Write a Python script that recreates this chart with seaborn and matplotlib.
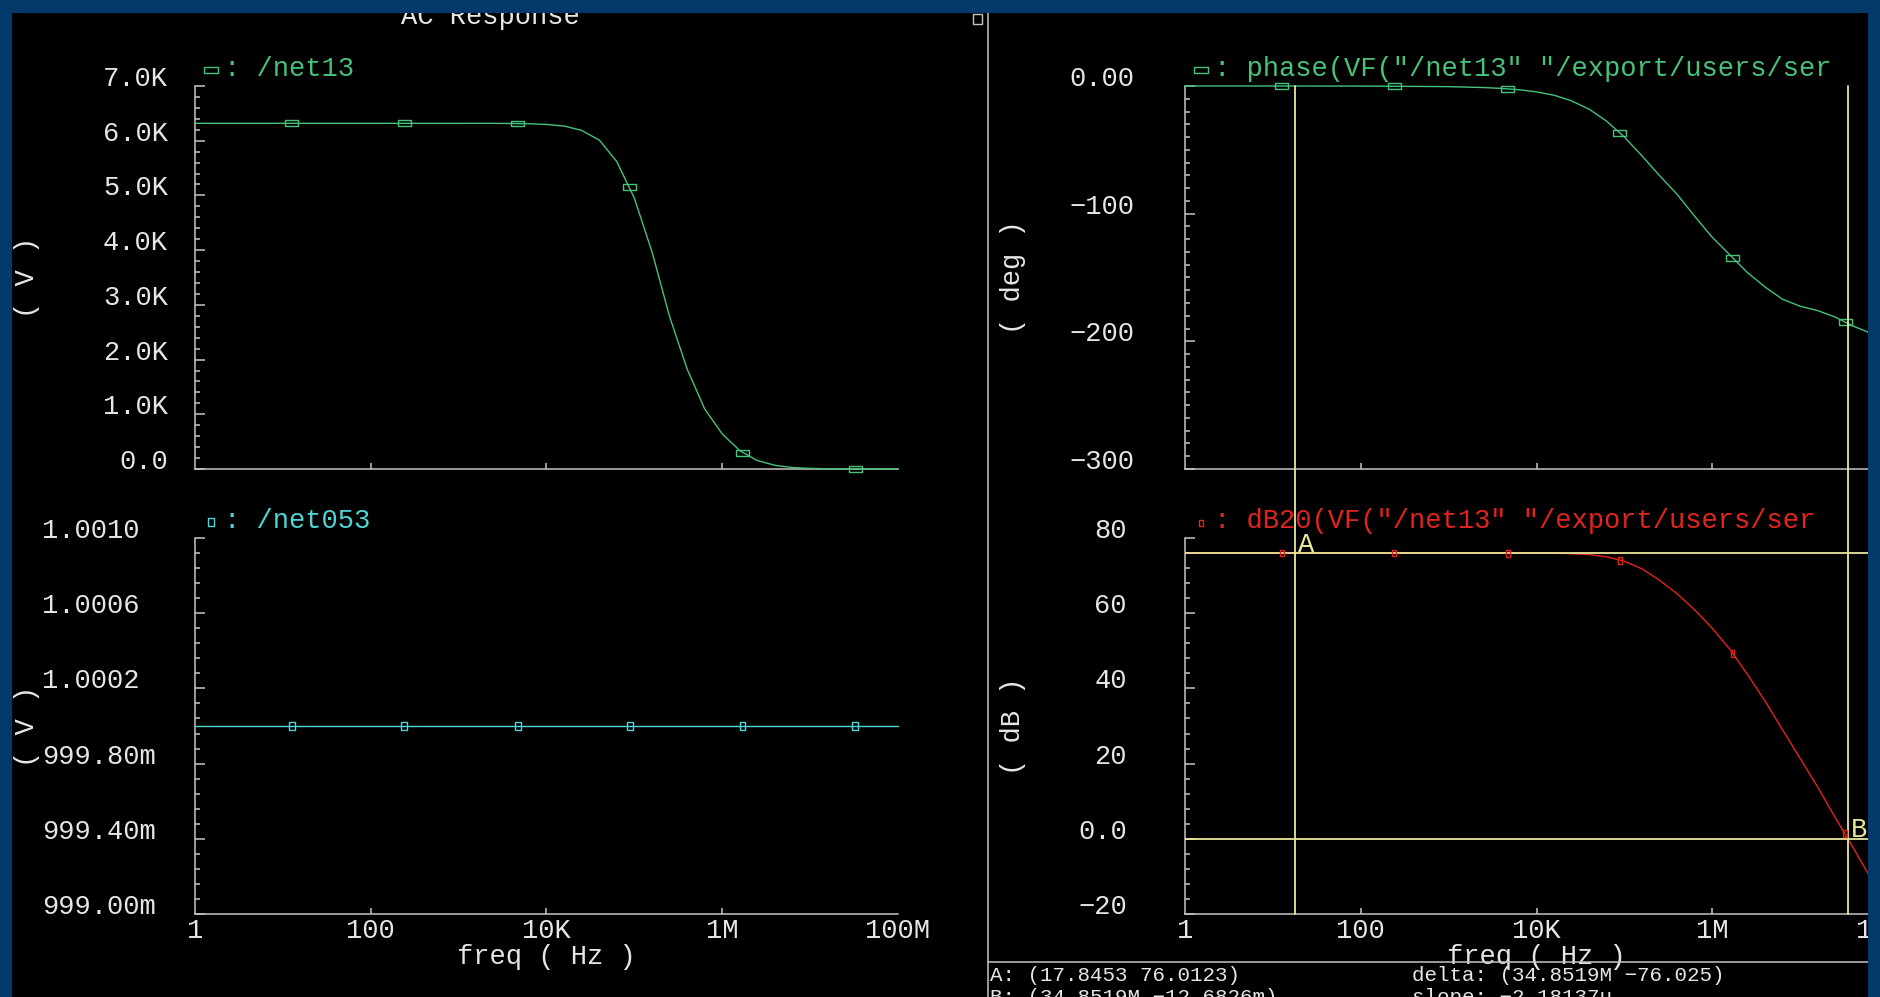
import numpy as np
import matplotlib.pyplot as plt
from matplotlib.patches import Rectangle
from matplotlib.lines import Line2D
from matplotlib.ticker import AutoMinorLocator, NullLocator
import seaborn as sns

# AC sweep points (Hz)
freq = [1, 10, 100, 1e3, 2.5e3, 4e3, 6.3e3, 1e4, 1.6e4, 2.5e4, 4e4, 6.3e4,
        1e5, 1.6e5, 2.5e5, 4e5, 6.3e5, 1e6, 1.6e6, 2.5e6, 4e6, 6.3e6,
        1e7, 1.6e7, 2.5e7, 4e7, 6.3e7, 1e8]
# /net13 magnitude (V)
net13 = [6318, 6318, 6318, 6317, 6317, 6315, 6310, 6297, 6267, 6190, 6010, 5620,
         4950, 3950, 2800, 1820, 1100, 640, 330, 155, 66, 27,
         11, 4, 1.7, 0.7, 0.3, 0.1]
# phase(VF("/net13")) in deg
phase = [0.0, -0.005, -0.05, -0.5, -1.2, -1.9, -2.9, -4.6, -7.3, -11.6, -18.3, -27.6,
         -40.0, -55.0, -70.0, -85.0, -102.0, -118.5, -132.5, -146.0, -157.5, -167.0,
         -172.5, -176.0, -181.0, -188.0, -193.5, -199.0]
# dB20(VF("/net13"))
gain_db = [76.01, 76.01, 76.01, 76.01, 76.01, 76.0, 76.0, 75.98, 75.94, 75.84, 75.58, 75.0,
           73.81, 71.75, 68.8, 65.13, 60.9, 56.0, 50.3, 43.8, 36.6, 29.0,
           21.4, 13.6, 5.7, -2.3, -10.3, -18.3]
# /net053 sits flat at 1 V
net053_freq = [1, 1e8]
net053 = [1.0, 1.0]

# trace markers (one every ~1.3 decades)
mark_freq = [12.6, 240, 4.7e3, 8.9e4, 1.7e6, 3.25e7]
mark_net13 = [6318, 6318, 6314, 5150, 300, 1]
mark_net053 = [1.0, 1.0, 1.0, 1.0, 1.0, 1.0]
mark_phase = [-0.01, -0.1, -2.2, -37.0, -134.5, -185.0]
mark_db = [76.01, 76.01, 76.0, 74.1, 49.3, 1.3]

# cursors A and B on the dB trace
cursor_a = (17.8453, 76.0123)
cursor_b = (34.8519e6, -12.6826e-3)

freq_ticks = [1, 1e2, 1e4, 1e6, 1e8]
freq_labels = ['1', '100', '10K', '1M', '100M']
v_ticks = [0, 1000, 2000, 3000, 4000, 5000, 6000, 7000]
v_labels = ['0.0', '1.0K', '2.0K', '3.0K', '4.0K', '5.0K', '6.0K', '7.0K']
v2_ticks = [0.999, 0.9994, 0.9998, 1.0002, 1.0006, 1.0010]
v2_labels = ['999.00m', '999.40m', '999.80m', '1.0002', '1.0006', '1.0010']
ph_ticks = [-300, -200, -100, 0]
ph_labels = ['−300', '−200', '−100', '0.00']
db_ticks = [-20, 0, 20, 40, 60, 80]
db_labels = ['−20', '0.0', '20', '40', '60', '80']

BLUE = '#033a6b'
BG = 'black'
AXC = '#c4c4c4'
TXT = '#e6e6e6'
GREEN = '#46c27a'
CYAN = '#4fd6d6'
RED = '#e3241e'
YEL = '#e8e89c'
LBL = 19.5
SML = 15

sns.set_style('dark', {'axes.facecolor': 'none', 'figure.facecolor': BG, 'axes.grid': False})
plt.rcParams['font.family'] = ['Liberation Mono', 'DejaVu Sans Mono']

W, H = 1881, 997
fig = plt.figure(figsize=(W / 100, H / 100), dpi=100)
fig.patch.set_facecolor(BG)


def fx(x):
    return x / W


def fy(y):
    return 1 - y / H


def add_ax(x0, y0, x1, y1):
    return fig.add_axes([fx(x0), fy(y1), (x1 - x0) / W, (y1 - y0) / H])


def setup(ax, ylim, ticks, labels, show_x, pad, ha='right', minor=5):
    ax.set_xscale('log')
    ax.set_xlim(1, 1e8)
    ax.set_ylim(*ylim)
    ax.set_facecolor('none')
    ax.grid(False)
    for side in ('top', 'right'):
        ax.spines[side].set_visible(False)
    for side in ('left', 'bottom'):
        ax.spines[side].set_color(AXC)
        ax.spines[side].set_linewidth(1.1)
    ax.set_xticks(freq_ticks, labels=freq_labels)
    ax.xaxis.set_minor_locator(NullLocator())
    ax.set_yticks(ticks, labels=labels)
    ax.yaxis.set_minor_locator(AutoMinorLocator(minor))
    ax.tick_params(axis='both', which='both', direction='in', color=AXC, width=1.1,
                   labelcolor=TXT, labelsize=LBL, left=True, bottom=True)
    ax.tick_params(axis='x', which='major', length=4.3, pad=3.0, labelbottom=show_x)
    ax.tick_params(axis='y', which='major', length=7.2, pad=pad)
    ax.tick_params(axis='y', which='minor', length=3.6)
    for t in ax.get_yticklabels():
        t.set_va('baseline')
        t.set_ha(ha)
    xt = ax.xaxis.get_major_ticks()
    xt[0].tick1line.set_visible(False)
    xt[-1].tick1line.set_visible(False)
    ax.set_xlabel('')


ax_v = add_ax(195, 86, 898, 469)
ax_v2 = add_ax(195, 538, 898, 914)
ax_ph = add_ax(1185, 86, 1888, 469)
ax_db = add_ax(1185, 538, 1888, 914)

setup(ax_v, (0, 7000), v_ticks, v_labels, False, 19.4)
setup(ax_v2, (0.999, 1.001), v2_ticks, v2_labels, True, 110, ha='left')
setup(ax_ph, (-300, 0), ph_ticks, ph_labels, False, 36.7, minor=10)
setup(ax_db, (-20, 80), db_ticks, db_labels, True, 41.8)

WIDE = [(-1, -0.45), (1, -0.45), (1, 0.45), (-1, 0.45), (-1, -0.45)]
TALL = [(-0.7, -1), (0.7, -1), (0.7, 1), (-0.7, 1), (-0.7, -1)]
THIN = [(-0.55, -1), (0.55, -1), (0.55, 1), (-0.55, 1), (-0.55, -1)]

# traces
sns.lineplot(x=freq, y=net13, ax=ax_v, color=GREEN, linewidth=1.0, clip_on=False, zorder=4)
sns.lineplot(x=net053_freq, y=net053, ax=ax_v2, color=CYAN, linewidth=1.0, clip_on=False, zorder=4)
sns.lineplot(x=freq, y=phase, ax=ax_ph, color=GREEN, linewidth=1.0, clip_on=False, zorder=4)
sns.lineplot(x=freq, y=gain_db, ax=ax_db, color=RED, linewidth=1.0, clip_on=False, zorder=2.8)

# trace markers
for ax, yv, mk, s, col in ((ax_v, mark_net13, WIDE, 88, GREEN),
                           (ax_v2, mark_net053, TALL, 36, CYAN),
                           (ax_ph, mark_phase, WIDE, 88, GREEN),
                           (ax_db, mark_db, THIN, 25, RED)):
    sns.scatterplot(x=mark_freq, y=yv, ax=ax, marker=mk, s=s, color=col, facecolor='none',
                    edgecolor=col, linewidth=1.0, clip_on=False, zorder=5)

for ax in (ax_v, ax_v2, ax_ph, ax_db):
    ax.set_xlabel('')
    ax.set_ylabel('')

# cursors A / B
fa, ya = cursor_a
fb, yb = cursor_b
reach = (914 - 86) / (914 - 538)
for f in (fa, fb):
    ax_db.axvline(f, ymin=0, ymax=reach, color=YEL, lw=1.3, clip_on=False, zorder=3)
for v in (ya, yb):
    ax_db.axhline(v, color=YEL, lw=1.3, zorder=3)
ax_db.annotate('A', (fa, ya), xytext=(2, 1), textcoords='offset points', color=YEL,
               fontsize=LBL, va='baseline', ha='left')
ax_db.annotate('B', (fb, yb), xytext=(2, 1), textcoords='offset points', color=YEL,
               fontsize=LBL, va='baseline', ha='left')

# axis titles
for ax, lab, xpos in ((ax_v, '( V )', (27 - 195) / 703), (ax_v2, '( V )', (27 - 195) / 703),
                      (ax_ph, '( deg )', (1013 - 1185) / 703), (ax_db, '( dB )', (1013 - 1185) / 703)):
    ax.set_ylabel(lab, color=TXT, fontsize=LBL, va='center')
    ax.yaxis.set_label_coords(xpos, 0.5)
for ax in (ax_v2, ax_db):
    ax.set_xlabel('freq ( Hz )', color=TXT, fontsize=LBL, va='top')
    ax.xaxis.set_label_coords(0.5, -(944 - 914) / 376)

# trace legends above each strip
legends = [(211, 70, 224, 76, WIDE, 88, GREEN, ': /net13'),
           (211, 522, 224, 528, TALL, 36, CYAN, ': /net053'),
           (1201, 70, 1214, 76, WIDE, 88, GREEN, ': phase(VF("/net13" "/export/users/ser'),
           (1201, 523, 1214, 528, THIN, 25, RED, ': dB20(VF("/net13" "/export/users/ser')]
for mx, my, tx, ty, mk, s, col, txt in legends:
    fig.text(fx(tx), fy(ty), txt, color=col, fontsize=LBL, va='baseline', ha='left')
    fig.add_artist(Line2D([fx(mx)], [fy(my)], marker=mk, ms=np.sqrt(s), mfc='none', mec=col,
                          mew=1.0, ls='none', transform=fig.transFigure))

# window chrome
fig.text(fx(490), fy(24), 'AC Response', color=TXT, fontsize=LBL, ha='center', va='baseline')
fig.add_artist(Line2D([fx(988), fx(988)], [fy(13), fy(997)], color=AXC, lw=1.1,
                      transform=fig.transFigure))
fig.add_artist(Line2D([fx(988), 1], [fy(962), fy(962)], color=AXC, lw=1.1,
                      transform=fig.transFigure))
fig.add_artist(Rectangle((fx(973), fy(24)), 9 / W, 10 / H, fill=False, ec=AXC, lw=1,
                         transform=fig.transFigure))

# marker readout
fig.text(fx(990), fy(981), 'A: (17.8453 76.0123)', color=TXT, fontsize=SML, va='baseline')
fig.text(fx(990), fy(1003), 'B: (34.8519M −12.6826m)', color=TXT, fontsize=SML, va='baseline')
fig.text(fx(1412), fy(981), 'delta: (34.8519M −76.025)', color=TXT, fontsize=SML, va='baseline')
fig.text(fx(1412), fy(1003), 'slope: −2.18137u', color=TXT, fontsize=SML, va='baseline')

# blue frame
for x0, y0, w, h in ((0, 0, W, 13), (0, 0, 12, H), (1868, 0, 13, H)):
    fig.add_artist(Rectangle((fx(x0), fy(y0 + h)), w / W, h / H, color=BLUE, lw=0,
                             transform=fig.transFigure, zorder=100))

fig.savefig('out.png', dpi=100, facecolor=BG)
